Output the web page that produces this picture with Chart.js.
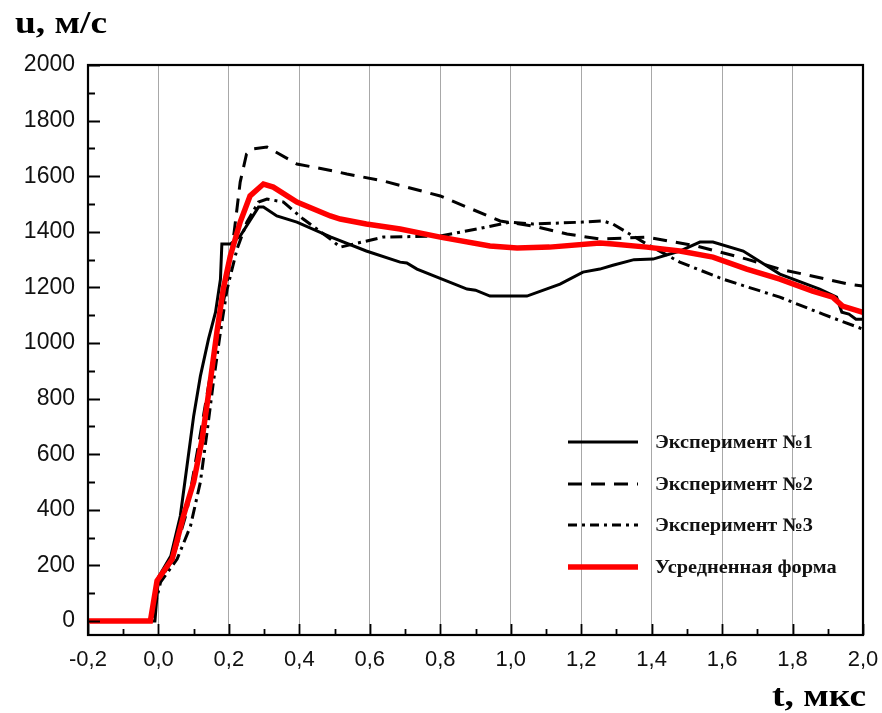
<!DOCTYPE html>
<html><head><meta charset="utf-8">
<script src="https://cdn.jsdelivr.net/npm/chart.js@4.4.0/dist/chart.umd.min.js"></script>
<style>html,body{margin:0;padding:0;background:#fff}#wrap{width:882px;height:713px;position:relative}</style>
</head><body><div id="wrap"><canvas id="c"></canvas></div>
<script>
// Data (t in мкс, u in м/с)
const exp1T = [-0.2, -0.01, 0.0, 0.035, 0.062, 0.081, 0.1, 0.119, 0.142, 0.162, 0.176, 0.18, 0.204, 0.232, 0.284, 0.298, 0.336, 0.393, 0.49, 0.59, 0.686, 0.705, 0.734, 0.876, 0.9, 0.941, 1.046, 1.14, 1.205, 1.253, 1.29, 1.35, 1.404, 1.48, 1.537, 1.574, 1.66, 1.764, 1.877, 1.925, 1.94, 1.96, 1.98, 2.0];
const exp1U = [0, 0, 158, 234, 378, 558, 738, 881, 1014, 1111, 1230, 1356, 1356, 1385, 1489, 1489, 1457, 1435, 1381, 1331, 1291, 1288, 1266, 1194, 1190, 1169, 1169, 1212, 1255, 1266, 1280, 1300, 1302, 1331, 1363, 1363, 1331, 1248, 1194, 1165, 1111, 1104, 1086, 1086];
const exp2T = [-0.2, -0.02, 0.0, 0.04, 0.08, 0.12, 0.16, 0.195, 0.215, 0.232, 0.25, 0.266, 0.308, 0.393, 0.496, 0.535, 0.638, 0.8, 0.97, 1.063, 1.16, 1.253, 1.386, 1.528, 1.67, 1.764, 1.96, 2.0];
const exp2U = [0, 0, 140, 220, 390, 680, 980, 1220, 1400, 1579, 1680, 1698, 1705, 1644, 1619, 1608, 1583, 1529, 1439, 1421, 1392, 1374, 1381, 1349, 1302, 1266, 1212, 1205];
const exp3T = [-0.2, -0.02, 0.006, 0.053, 0.091, 0.119, 0.138, 0.156, 0.176, 0.195, 0.223, 0.251, 0.284, 0.308, 0.355, 0.411, 0.488, 0.516, 0.638, 0.8, 0.904, 0.998, 1.063, 1.205, 1.262, 1.29, 1.386, 1.48, 1.602, 1.764, 1.886, 2.0];
const exp3U = [0, 0, 140, 223, 342, 500, 680, 860, 1040, 1194, 1338, 1435, 1507, 1518, 1507, 1446, 1374, 1345, 1381, 1385, 1410, 1435, 1428, 1435, 1439, 1428, 1356, 1291, 1230, 1165, 1104, 1050];
const avgT = [-0.2, -0.023, -0.004, 0.039, 0.071, 0.1, 0.124, 0.147, 0.166, 0.184, 0.204, 0.232, 0.26, 0.298, 0.326, 0.393, 0.488, 0.516, 0.59, 0.686, 0.8, 0.941, 1.018, 1.11, 1.253, 1.29, 1.386, 1.48, 1.574, 1.67, 1.764, 1.857, 1.914, 1.942, 2.0];
const avgU = [0, 0, 145, 223, 378, 500, 655, 860, 1040, 1194, 1313, 1435, 1529, 1572, 1561, 1507, 1457, 1446, 1428, 1410, 1381, 1349, 1342, 1345, 1360, 1356, 1345, 1331, 1309, 1266, 1230, 1187, 1165, 1133, 1110];
const seriesNames = ['Эксперимент №1', 'Эксперимент №2', 'Эксперимент №3', 'Усредненная форма'];
const xTickValues = [-0.2, 0.0, 0.2, 0.4, 0.6, 0.8, 1.0, 1.2, 1.4, 1.6, 1.8, 2.0];
const yTickValues = [0, 200, 400, 600, 800, 1000, 1200, 1400, 1600, 1800, 2000];
const yAxisTitle = 'u, м/с';
const xAxisTitle = 't, мкс';

const pts = (t, u) => t.map((v, i) => ({x: v, y: u[i]}));

function stretchedText(ctx, text, x, y, sx, align) {
  ctx.save();
  const w = ctx.measureText(text).width * sx;
  const left = align === 'right' ? x - w : x;
  ctx.translate(left, y);
  ctx.scale(sx, 1);
  ctx.textAlign = 'left';
  ctx.fillText(text, 0, 0);
  ctx.restore();
}

const decor = {
  id: 'decor',
  afterDraw(chart) {
    const ctx = chart.ctx, a = chart.chartArea;
    const xs = chart.scales.x, ys = chart.scales.y;
    ctx.save();
    ctx.strokeStyle = '#000';
    ctx.setLineDash([]);
    // inward ticks
    ctx.lineWidth = 1.8;
    ctx.beginPath();
    for (let v = 0; v <= 2000; v += 100) {
      const y = Math.round(ys.getPixelForValue(v)) + 0.5;
      const len = (v % 200 === 0) ? 12 : 7;
      ctx.moveTo(a.left, y); ctx.lineTo(a.left + len, y);
    }
    for (let k = -2; k <= 20; k++) {
      const x = Math.round(xs.getPixelForValue(k / 10)) + 0.5;
      const len = (k % 2 === 0) ? 11 : 6;
      ctx.moveTo(x, a.bottom); ctx.lineTo(x, a.bottom - len);
    }
    ctx.stroke();
    // frame
    ctx.lineWidth = 2.2;
    ctx.strokeRect(a.left, a.top, a.right - a.left, a.bottom - a.top);
    // axis titles
    ctx.fillStyle = '#000';
    ctx.font = 'bold 32px "Liberation Serif", serif';
    ctx.textBaseline = 'alphabetic';
    stretchedText(ctx, yAxisTitle, 15, 33, 1.17, 'left');
    stretchedText(ctx, xAxisTitle, 866, 706, 1.17, 'right');
    // legend
    const rows = [442, 484, 525, 567];
    chart.data.datasets.forEach((ds, i) => {
      const y = rows[i];
      ctx.strokeStyle = ds.borderColor;
      ctx.lineWidth = ds.borderWidth;
      ctx.setLineDash(ds.legendDash || []);
      ctx.lineCap = 'butt';
      ctx.beginPath(); ctx.moveTo(568, y); ctx.lineTo(638, y); ctx.stroke();
      ctx.setLineDash([]);
      ctx.fillStyle = '#111';
      ctx.font = 'bold 19px "Liberation Serif", serif';
      ctx.textBaseline = 'middle';
      stretchedText(ctx, ds.label, 655, y + 1, 1.07, 'left');
    });
    ctx.restore();
  }
};

new Chart(document.getElementById('c'), {
  type: 'scatter',
  data: {
    datasets: [
      {label: seriesNames[0], data: pts(exp1T, exp1U), borderColor: '#000', borderWidth: 3, showLine: true, pointRadius: 0, order: 3},
      {label: seriesNames[1], data: pts(exp2T, exp2U), borderColor: '#000', borderWidth: 3, borderDash: [14, 9], legendDash: [14, 9], showLine: true, pointRadius: 0, order: 2},
      {label: seriesNames[2], data: pts(exp3T, exp3U), borderColor: '#000', borderWidth: 3, borderDash: [12, 5, 3, 5], legendDash: [9, 5, 3, 5], showLine: true, pointRadius: 0, order: 1},
      {label: seriesNames[3], data: pts(avgT, avgU), borderColor: '#ff0000', borderWidth: 5.5, showLine: true, pointRadius: 0, order: 0}
    ]
  },
  options: {
    responsive: true, maintainAspectRatio: false, animation: false,
    layout: {padding: {top: 65, right: 19, left: 0, bottom: 0}},
    plugins: {legend: {display: false}, tooltip: {enabled: false}},
    scales: {
      x: {
        type: 'linear', min: -0.2, max: 2.0,
        afterBuildTicks: s => { s.ticks = xTickValues.map(v => ({value: v})); },
        afterFit: s => { s.height = 78; s.paddingLeft = 0; s.paddingRight = 0; },
        grid: {color: '#a8a8a8', lineWidth: 1, drawTicks: false, drawOnChartArea: true},
        border: {display: false},
        ticks: {padding: 12, color: '#111', font: {family: '"Liberation Sans", Arial, sans-serif', size: 22},
          callback: v => (Math.round(v * 10) / 10).toFixed(1).replace('.', ','), maxRotation: 0, autoSkip: false}
      },
      y: {
        type: 'linear', min: -50, max: 2000,
        afterBuildTicks: s => { s.ticks = yTickValues.map(v => ({value: v})); },
        afterFit: s => { s.width = 88; s.paddingTop = 0; s.paddingBottom = 0; },
        grid: {display: false, drawTicks: false},
        border: {display: false},
        ticks: {padding: 13, color: '#111', font: {family: '"Liberation Sans", Arial, sans-serif', size: 23},
          callback: v => String(v), autoSkip: false}
      }
    }
  },
  plugins: [decor]
});
</script></body></html>
